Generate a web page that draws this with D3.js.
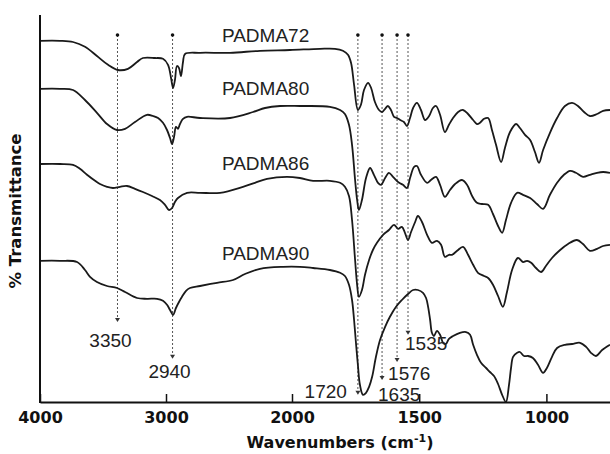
<!DOCTYPE html>
<html><head><meta charset="utf-8">
<script src="https://cdn.jsdelivr.net/npm/d3@7"></script>
<style>body{margin:0;background:#fff}</style>
</head><body><svg id="chart" width="610" height="454"></svg>
<script>
// ---------- data (wavenumber cm^-1, % transmittance, arbitrary offset) ----------
const seriesNames = ["PADMA72", "PADMA80", "PADMA86", "PADMA90"];

const wn72 = [4000,3841,3738,3643,3548,3460,3381,3302,3230,3183,3087,3024,2984,2960,2944,2929,2913,2897,2881,2865,2849,2730,2492,2254,2016,1890,1831,1800,1780,1768,1756,1741,1729,1717,1701,1689,1674,1658,1646,1634,1623,1611,1599,1587,1575,1560,1548,1536,1524,1509,1493,1477,1461,1446,1434,1418,1399,1383,1367,1347,1328,1308,1288,1273,1261,1245,1229,1214,1198,1178,1163,1143,1119,1104,1084,1064,1045,1029,1013,986,958,927,899,876,852,829,801,777,750];
const t72  = [90.3,90.3,90.0,88.8,86.5,84.3,83.0,83.3,85.0,86.0,86.0,85.8,84.3,81.0,78.5,80.5,84.0,83.5,81.5,85.0,87.0,87.3,87.3,87.8,88.0,88.3,88.3,87.8,86.8,84.8,79.3,73.0,74.3,78.0,79.8,78.5,75.0,73.0,72.5,73.3,74.0,73.0,71.3,71.0,70.5,70.0,69.0,71.0,73.5,74.8,73.0,70.5,71.5,73.5,74.0,71.8,67.5,69.3,71.0,72.5,73.0,72.0,70.5,69.5,69.8,70.8,71.0,68.0,64.3,60.0,63.5,67.5,69.5,68.5,66.8,65.5,62.5,59.8,63.0,67.3,71.0,74.0,74.8,74.0,72.5,71.5,72.0,72.8,73.0];

const wn80 = [4000,3841,3738,3643,3548,3468,3389,3325,3246,3151,3103,3063,3024,2992,2968,2952,2936,2921,2905,2889,2865,2833,2730,2492,2309,2214,2095,1969,1851,1811,1792,1776,1764,1752,1744,1737,1725,1709,1693,1678,1662,1650,1634,1619,1603,1579,1564,1548,1536,1520,1509,1493,1469,1454,1434,1418,1399,1379,1359,1332,1312,1292,1273,1253,1229,1210,1190,1174,1159,1139,1115,1092,1064,1037,1013,986,958,931,907,884,856,829,801,777,750];
const t80  = [78.3,78.3,78.0,75.5,72.3,69.5,68.0,68.3,70.0,71.8,71.5,71.0,69.8,68.0,66.0,64.5,66.3,68.8,68.3,69.5,70.8,71.3,71.0,71.0,72.5,73.5,74.0,74.0,73.8,73.0,72.0,69.3,64.3,55.5,50.5,48.0,50.5,56.0,58.5,56.8,54.8,54.3,56.0,57.3,56.3,54.8,54.3,53.5,56.0,58.8,59.0,56.8,54.8,55.5,56.3,54.3,51.3,53.0,54.5,55.5,54.3,51.5,49.8,49.5,49.3,47.0,44.0,42.3,45.5,49.8,52.3,51.8,51.0,49.5,48.3,51.8,54.8,56.8,57.8,57.3,56.3,56.8,57.3,57.5,57.3];

const wn86 = [4000,3841,3738,3683,3627,3563,3524,3468,3421,3365,3310,3246,3183,3111,3048,3008,2976,2952,2929,2905,2833,2730,2571,2389,2294,2198,2040,1969,1917,1851,1811,1792,1776,1764,1752,1744,1737,1725,1713,1697,1682,1666,1642,1619,1599,1583,1568,1556,1544,1532,1516,1505,1489,1469,1450,1430,1414,1399,1383,1371,1351,1328,1308,1288,1269,1245,1229,1210,1190,1171,1155,1135,1112,1092,1076,1060,1041,1021,1002,978,946,915,880,856,829,801,777,750];
const t86  = [59.5,59.5,59.3,58.3,56.8,55.3,54.5,53.8,53.5,53.8,54.0,53.3,52.5,51.5,50.5,49.3,48.0,48.5,50.0,51.0,52.3,52.3,52.3,53.8,54.8,55.8,56.3,56.0,55.3,55.3,54.8,53.8,51.5,45.5,35.5,29.3,26.3,28.0,31.8,35.5,38.0,39.8,41.8,43.0,44.3,43.3,43.8,42.3,40.5,42.5,45.0,46.5,45.0,41.8,39.8,40.3,39.3,36.3,36.8,36.8,37.8,38.8,36.8,34.3,32.3,31.5,31.0,29.3,26.5,23.8,27.5,33.0,36.0,35.0,35.3,34.8,33.5,32.5,34.0,36.0,38.0,39.5,40.5,39.5,37.8,38.3,39.0,39.3];

const wn90 = [4000,3841,3706,3643,3603,3548,3468,3389,3325,3230,3151,3071,3024,2992,2968,2944,2921,2897,2873,2841,2810,2730,2595,2468,2373,2254,2071,1969,1917,1851,1811,1792,1776,1764,1756,1748,1741,1733,1721,1709,1697,1685,1670,1654,1634,1615,1591,1568,1544,1524,1505,1485,1473,1465,1457,1450,1442,1430,1418,1406,1395,1383,1367,1340,1316,1300,1288,1273,1257,1237,1222,1206,1190,1174,1159,1147,1139,1131,1115,1104,1088,1072,1053,1033,1013,998,978,958,927,899,868,844,825,805,781,750];
const t90  = [35.3,35.3,35.0,33.0,31.3,30.0,29.0,28.5,27.5,26.0,25.8,25.8,25.3,24.3,23.0,21.8,23.5,25.0,26.3,27.8,28.5,29.0,29.8,30.5,32.0,33.3,33.8,33.8,33.5,33.0,32.3,31.5,29.3,25.5,20.5,14.3,9.3,4.3,1.8,2.3,3.8,6.3,11.3,15.5,18.8,21.3,23.8,25.5,27.0,28.0,28.0,27.3,26.0,23.8,20.5,17.3,16.5,17.8,16.8,14.8,14.5,15.8,16.5,17.3,17.5,16.8,14.3,11.8,9.8,8.5,7.5,6.5,4.5,1.8,0.0,4.3,8.5,11.3,12.3,12.5,11.5,11.5,11.0,9.3,7.3,8.5,11.3,13.5,14.3,14.5,14.8,13.8,12.3,11.5,13.0,14.3];

const xTickValues = [4000, 3000, 2000, 1500, 1000];
const peakLabels = ["3350", "2940", "1720", "1635", "1576", "1535"];
const peakPositions = [3385, 2948, 1741, 1646, 1587, 1544];
const peakArrowEnds = [20, 10.8, 1.8, 5.5, 10, 16.8];
const peakMarkerTop = 91.75;
const seriesLabelWn = 2556;
const seriesLabelT = [90, 76.75, 58, 35.5];

// ---------- layout ----------
const svg = d3.select("#chart");
const x = d3.scaleLinear().domain([4000, 2000, 750]).range([40, 292, 610]);
const y = d3.scaleLinear().domain([0, 100]).range([402, 2]);

const series = [
  {name: seriesNames[0], wn: wn72, t: t72},
  {name: seriesNames[1], wn: wn80, t: t80},
  {name: seriesNames[2], wn: wn86, t: t86},
  {name: seriesNames[3], wn: wn90, t: t90}
];

// peak marker lines (drawn first, under curves)
const mk = svg.append("g");
peakPositions.forEach((p, i) => {
  const px = x(p);
  mk.append("line").attr("x1", px).attr("x2", px)
    .attr("y1", y(peakMarkerTop)).attr("y2", y(peakArrowEnds[i]) - 3)
    .attr("stroke", "#555").attr("stroke-width", 1).attr("stroke-dasharray", "2,2");
  mk.append("circle").attr("cx", px).attr("cy", y(peakMarkerTop)).attr("r", 1.8).attr("fill", "#111");
  const ay = y(peakArrowEnds[i]);
  mk.append("path").attr("d", `M${px-2.5},${ay-4}L${px+2.5},${ay-4}L${px},${ay}Z`).attr("fill", "#333");
});

// curves
const line = d3.line().x(d => x(d[0])).y(d => y(d[1])).curve(d3.curveCatmullRom.alpha(0.5));
svg.append("g").selectAll("path").data(series).join("path")
  .attr("d", s => line(s.wn.map((w, i) => [w, s.t[i]])))
  .attr("fill", "none").attr("stroke", "#1a1a1a").attr("stroke-width", 1.8)
  .attr("stroke-linejoin", "round");

// series labels
svg.append("g").selectAll("text").data(series).join("text")
  .attr("x", x(seriesLabelWn)).attr("y", (s, i) => y(seriesLabelT[i]))
  .attr("font-family", "Liberation Sans, Arial, sans-serif").attr("font-size", 19)
  .attr("fill", "#222").text(s => s.name);

// peak labels
const labelLayout = [
  {anchor: "middle", dx: -7, dy: 25},
  {anchor: "middle", dx: -3, dy: 19},
  {anchor: "end", dx: -11, dy: 3},
  {anchor: "start", dx: -4, dy: 21},
  {anchor: "start", dx: -9, dy: 18},
  {anchor: "start", dx: -3, dy: 15}
];
peakLabels.forEach((lab, i) => {
  svg.append("text")
    .attr("x", x(peakPositions[i]) + labelLayout[i].dx)
    .attr("y", y(peakArrowEnds[i]) + labelLayout[i].dy)
    .attr("text-anchor", labelLayout[i].anchor)
    .attr("font-family", "Liberation Sans, Arial, sans-serif").attr("font-size", 19)
    .attr("fill", "#222").text(lab);
});

// axes
const xAxis = d3.axisBottom(x).tickValues(xTickValues).tickFormat(d3.format("d"))
  .tickSizeInner(-8).tickSizeOuter(0).tickPadding(10);
const gx = svg.append("g").attr("transform", `translate(0,${y(0)})`).call(xAxis);
gx.select(".domain").attr("stroke", "#111").attr("stroke-width", 2);
gx.selectAll(".tick line").attr("stroke", "#111").attr("stroke-width", 1.5);
gx.selectAll(".tick text").attr("font-family", "DejaVu Sans, sans-serif")
  .attr("font-weight", "bold").attr("font-size", 16).attr("fill", "#111");

svg.append("line").attr("x1", 40).attr("x2", 40).attr("y1", 15).attr("y2", y(0) + 1)
  .attr("stroke", "#111").attr("stroke-width", 2);

// axis titles
const xt = svg.append("text").attr("x", 340).attr("y", 448).attr("text-anchor", "middle")
  .attr("font-family", "DejaVu Sans, sans-serif").attr("font-weight", "bold")
  .attr("font-size", 16).attr("fill", "#111");
xt.append("tspan").text("Wavenumbers (cm");
xt.append("tspan").attr("dy", -6).attr("font-size", 11).text("-1");
xt.append("tspan").attr("dy", 6).text(")");

svg.append("text").attr("transform", "translate(21,211) rotate(-90)")
  .attr("text-anchor", "middle").attr("font-family", "DejaVu Sans, sans-serif")
  .attr("font-weight", "bold").attr("font-size", 16.5).attr("fill", "#111")
  .text("% Transmittance");
</script></body></html>
